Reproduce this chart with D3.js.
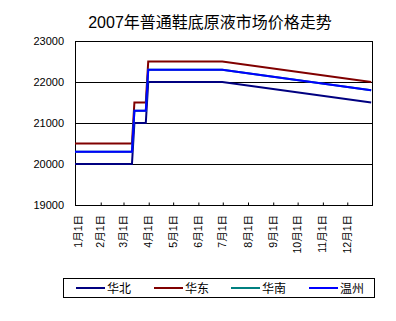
<!DOCTYPE html>
<html>
<head>
<meta charset="utf-8">
<script src="https://cdn.jsdelivr.net/npm/d3@7"></script>
<style>
  body { margin: 0; background: #fff; }
  text { font-family: "Liberation Sans", "Noto Sans CJK SC", sans-serif; fill: #000; }
</style>
</head>
<body>
<div id="chart"></div>
<script>
// Dates where the price changes (2007)
var dates = ["2007-01-01", "2007-03-12", "2007-03-15", "2007-03-29", "2007-04-01", "2007-07-01", "2007-12-31"];

// Series values
var huabei   = [20000, 20000, 21000, 21000, 22000, 22000, 21500];
var huadong  = [20500, 20500, 21500, 21500, 22500, 22500, 22000];
var huanan   = [20300, 20300, 21300, 21300, 22300, 22300, 21800];
var wenzhou  = [20300, 20300, 21300, 21300, 22300, 22300, 21800];

var seriesNames = ["华北", "华东", "华南", "温州"];
var seriesColors = ["#000080", "#800000", "#008080", "#0000ff"];
var seriesValues = [huabei, huadong, huanan, wenzhou];

var yTicks = [19000, 20000, 21000, 22000, 23000];
var monthLabels = ["1月1日", "2月1日", "3月1日", "4月1日", "5月1日", "6月1日",
  "7月1日", "8月1日", "9月1日", "10月1日", "11月1日", "12月1日"];

// SVG area
var svgWidth = 396;
var svgHeight = 321;

var chartMargin = { top: 41, right: 24, bottom: 116, left: 75 };
var chartWidth = svgWidth - chartMargin.left - chartMargin.right;
var chartHeight = svgHeight - chartMargin.top - chartMargin.bottom;

var svg = d3.select("#chart")
  .append("svg")
  .attr("width", svgWidth)
  .attr("height", svgHeight);

// Title
svg.append("text")
  .attr("x", 210)
  .attr("y", 28)
  .attr("text-anchor", "middle")
  .attr("font-size", "16px")
  .text("2007年普通鞋底原液市场价格走势");

var chartGroup = svg.append("g")
  .attr("transform", `translate(${chartMargin.left}, ${chartMargin.top})`);

var parseDate = d3.timeParse("%Y-%m-%d");
var dateValues = dates.map(parseDate);

var xTimeScale = d3.scaleTime()
  .domain([new Date(2007, 0, 1), new Date(2008, 0, 1)])
  .range([0, chartWidth]);

var yLinearScale = d3.scaleLinear()
  .domain([19000, 23000])
  .range([chartHeight, 0]);

// Gridlines
chartGroup.selectAll(".grid")
  .data(yTicks.slice(1, -1))
  .enter()
  .append("line")
  .attr("x1", 0)
  .attr("x2", chartWidth)
  .attr("y1", d => yLinearScale(d) + 0.5)
  .attr("y2", d => yLinearScale(d) + 0.5)
  .attr("stroke", "#000")
  .attr("stroke-width", 1);

// Plot frame
chartGroup.append("rect")
  .attr("x", 0.5)
  .attr("y", 0.5)
  .attr("width", chartWidth)
  .attr("height", chartHeight)
  .attr("fill", "none")
  .attr("stroke", "#000")
  .attr("stroke-width", 1);

// Left axis labels
var leftAxis = d3.axisLeft(yLinearScale)
  .tickValues(yTicks)
  .tickFormat(d3.format("d"))
  .tickSize(0)
  .tickPadding(11);
var yAxisGroup = chartGroup.append("g").call(leftAxis);
yAxisGroup.select(".domain").remove();
yAxisGroup.selectAll("text")
  .attr("font-size", "11px")
  .attr("font-family", "Liberation Sans, sans-serif");

// Bottom axis: inner ticks at month starts
var monthStarts = d3.timeMonth.range(new Date(2007, 0, 1), new Date(2008, 0, 1));
var bottomAxis = d3.axisBottom(xTimeScale).tickValues(monthStarts.slice(1)).tickSize(-3).tickFormat("");
var xAxisGroup = chartGroup.append("g")
  .attr("transform", `translate(0.5, ${chartHeight + 0.5})`)
  .call(bottomAxis);
xAxisGroup.select(".domain").remove();
xAxisGroup.selectAll("line").attr("stroke", "#000");

// Rotated month labels
chartGroup.selectAll(".month")
  .data(monthStarts)
  .enter()
  .append("text")
  .attr("transform", (d, i) => `translate(${xTimeScale(d) + (i === 0 ? 3 : 0) + 4}, ${chartHeight + 10}) rotate(-90)`)
  .attr("text-anchor", "end")
  .attr("font-size", "10.5px")
  .text((d, i) => monthLabels[i]);

// Lines
var line = d3.line()
  .x((d, i) => xTimeScale(dateValues[i]))
  .y(d => yLinearScale(d));

chartGroup.selectAll(".series")
  .data(seriesValues)
  .enter()
  .append("path")
  .attr("d", d => line(d))
  .attr("fill", "none")
  .attr("stroke", (d, i) => seriesColors[i])
  .attr("stroke-width", 2);

// Legend
var legend = svg.append("g");
legend.append("rect")
  .attr("x", 63.5)
  .attr("y", 278.5)
  .attr("width", 311)
  .attr("height", 19)
  .attr("fill", "none")
  .attr("stroke", "#000");

var legendX = [76, 154, 231, 309];
seriesNames.forEach(function(name, i) {
  legend.append("line")
    .attr("x1", legendX[i])
    .attr("x2", legendX[i] + 29)
    .attr("y1", 288)
    .attr("y2", 288)
    .attr("stroke", seriesColors[i])
    .attr("stroke-width", 2);
  legend.append("text")
    .attr("x", legendX[i] + 31)
    .attr("y", 292.5)
    .attr("font-size", "12px")
    .text(name);
});
</script>
</body>
</html>
